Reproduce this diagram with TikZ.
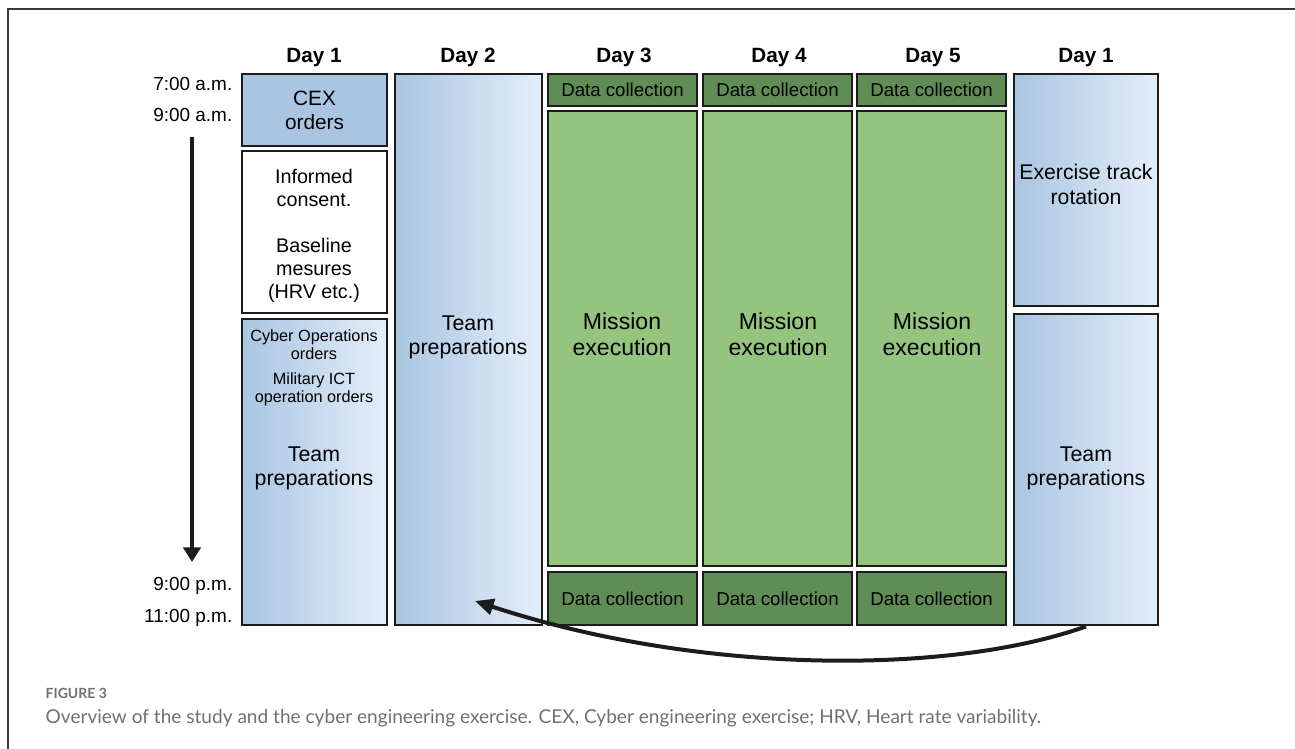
\documentclass[tikz,border=0pt]{standalone}
\usepackage{fontspec}
\setmainfont{Liberation Sans}
\newfontfamily\capfont{Lato}
\usetikzlibrary{arrows.meta,fit}
\definecolor{blueA}{HTML}{A9C5E1}
\definecolor{blueB}{HTML}{E4EEFB}
\definecolor{dgreen}{HTML}{5F8D55}
\definecolor{lgreen}{HTML}{95C47F}
\definecolor{edgec}{HTML}{1C1C1C}
\definecolor{framec}{HTML}{3A3A3A}
\definecolor{capgray}{HTML}{707070}
\begin{document}
\begin{tikzpicture}[x=0.75pt,y=-0.75pt,
  box/.style={draw=edgec,line width=2.1pt,inner sep=0pt,fit={#1}},
  gbox/.style={box={#1},left color=blueA,right color=blueB},
  dbox/.style={box={#1},fill=dgreen},
  dtxt/.style={font=\fontsize{14}{16}\selectfont},
  mbox/.style={box={#1},fill=lgreen},
  dayhd/.style={anchor=base,font=\bfseries\fontsize{15.5}{18}\selectfont},
  timelbl/.style={anchor=base east,font=\fontsize{14.2}{16}\selectfont},
  tprep/.style={align=center,font=\fontsize{16}{18}\selectfont},
  mission/.style={align=center,font=\fontsize{17.3}{19.5}\selectfont},
  small/.style={align=center,font=\fontsize{12.2}{13.5}\selectfont},
  arr/.style={draw=edgec,line width=3pt}
]
\useasboundingbox (0,0) rectangle (1295,749);
% frame
\draw[framec,line width=1.5pt] (8,749) -- (8,9) -- (1295,9);

% headers
\node[dayhd] (h1) at (314,63) {Day 1};
\node[dayhd] (h2) at (468,63) {Day 2};
\node[dayhd] (h3) at (624,63) {Day 3};
\node[dayhd] (h4) at (779,63) {Day 4};
\node[dayhd] (h5) at (933,63) {Day 5};
\node[dayhd] (h6) at (1086,63) {Day 1};

% time labels
\node[timelbl] (t1) at (237,90) {7:00 a.m.};
\node[timelbl] (t2) at (237,122) {9:00 a.m.};
\node[timelbl] (t3) at (237,590) {9:00 p.m.};
\node[timelbl] (t4) at (237,622) {11:00 p.m.};

% column 1
\node[box={(242,74) (387,146)},fill=blueA] (cex) {};
\node[align=center,font=\fontsize{15.6}{18}\selectfont] (cext) at (cex.center) {CEX\\orders};
\node[box={(242,151) (387,313)},fill=white] (cons) {};
\node[align=center,font=\fontsize{14.8}{17.25}\selectfont] (const) at (314,236) {Informed\\consent.\\[17.25pt]Baseline\\mesures\\(HRV etc.)};
\node[gbox={(242,319) (387,625)}] (tp1) {};
\node[small] (cyb) at (314,345) {Cyber Operations\\orders};
\node[small] (mil) at (314,389) {Military ICT\\operation orders};
\node[tprep] (tp1t) at (314,468) {Team\\preparations};

% column 2
\node[gbox={(395,74) (542,625)}] (tp2) {};
\node[tprep] (tp2t) at (468,337) {Team\\preparations};

% columns 3-5
\node[dbox={(548,74) (697,106)}] (d3a) {};
\node[dtxt] (d3at) at (d3a.center) {Data collection};
\node[mbox={(548,111) (697,566)}] (m3) {};
\node[mission] (m3t) at (622,334) {Mission\\execution};
\node[dbox={(548,572) (697,625)}] (d3b) {};
\node[dtxt] (d3bt) at (d3b.center) {Data collection};

\node[dbox={(703,74) (852,106)}] (d4a) {};
\node[dtxt] (d4at) at (d4a.center) {Data collection};
\node[mbox={(703,111) (852,566)}] (m4) {};
\node[mission] (m4t) at (778,334) {Mission\\execution};
\node[dbox={(703,572) (852,625)}] (d4b) {};
\node[dtxt] (d4bt) at (d4b.center) {Data collection};

\node[dbox={(857,74) (1006,106)}] (d5a) {};
\node[dtxt] (d5at) at (d5a.center) {Data collection};
\node[mbox={(857,111) (1006,566)}] (m5) {};
\node[mission] (m5t) at (932,334) {Mission\\execution};
\node[dbox={(857,572) (1006,625)}] (d5b) {};
\node[dtxt] (d5bt) at (d5b.center) {Data collection};

% column 6
\node[gbox={(1014,74) (1158,306)}] (ex6) {};
\node[align=center,font=\fontsize{15.9}{18.75}\selectfont] (ex6t) at (1086,184) {Exercise track\\rotation};
\node[gbox={(1014,314) (1158,625)}] (tp6) {};
\node[tprep] (tp6t) at (1086,468) {Team\\preparations};

% time arrow
\coordinate (ta) at (192,137);
\coordinate (tb) at (192,562);
\draw[arr,-{Triangle[width=13pt,length=11pt]}] (ta) -- (tb);

% rotation arrow
\coordinate (aend) at (475,601);
\draw[arr,-{Triangle[width=12pt,length=14pt]}] (tp6.south) .. controls (950,675) and (700,675) .. (aend);

% caption
\node[anchor=base west,text=capgray,font=\capfont\bfseries\fontsize{10.5}{12}\selectfont] (fig) at (41,698) {FIGURE 3};
\node[anchor=base west,text=capgray,font=\capfont\fontsize{14.3}{17}\selectfont] (cap) at (41,723) {Overview of the study and the cyber engineering exercise. CEX, Cyber engineering exercise; HRV, Heart rate variability.};
\end{tikzpicture}
\end{document}
